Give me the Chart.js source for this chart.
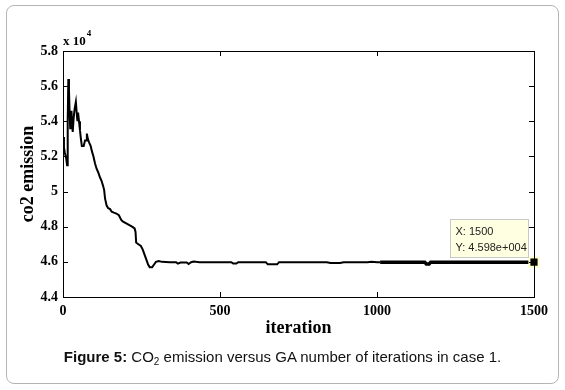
<!DOCTYPE html>
<html>
<head>
<meta charset="utf-8">
<script src="https://cdn.jsdelivr.net/npm/chart.js@4/dist/chart.umd.min.js"></script>
<style>
  html, body { margin: 0; padding: 0; background: #fff; }
  #frame { position: absolute; left: 6px; top: 5px; width: 551px; height: 377px;
           border: 1px solid #b4b4b4; border-radius: 8px; }
  #wrap { position: absolute; left: 0; top: 0; width: 565px; height: 390px; }
  #caption { position: absolute; left: 0; width: 565px; top: 348px; text-align: center;
             font-family: "Liberation Sans", Arial, sans-serif; font-size: 15px; color: #111; }
  #caption sub { font-size: 10px; vertical-align: -3px; }
</style>
</head>
<body>
<div id="frame"></div>
<div id="wrap"><canvas id="chart" width="565" height="390"></canvas></div>
<div id="caption"><b>Figure 5:</b> CO<sub>2</sub> emission versus GA number of iterations in case 1.</div>
<script>
// co2 emission (x 10^4) per GA iteration
const iterations = [0, 3, 6, 10, 13, 15, 17, 19, 21, 23, 25, 27, 29, 31, 34, 37, 41, 44, 46, 48,
  51, 54, 57, 60, 66, 70, 74, 76, 79, 83, 88, 92, 97, 102, 107, 112, 118, 123, 128, 131,
  134, 139, 144, 150, 155, 162, 170, 178, 185, 190, 200, 210, 220, 228, 231, 233, 240, 248, 254, 260,
  266, 271, 276, 284, 290, 296, 305, 315, 340, 360, 366, 374, 394, 400, 408, 416, 424, 434, 446, 460,
  536, 542, 552, 558, 646, 652, 682, 688, 700, 840, 852, 882, 894, 970, 982, 1000, 1010,
  1152, 1157, 1166, 1171, 1500];
const co2Emission = [5.31, 5.25, 5.22, 5.19, 5.15, 5.40, 5.64, 5.58, 5.45, 5.36, 5.40, 5.46, 5.38, 5.34, 5.42, 5.47, 5.51, 5.44, 5.40, 5.45,
  5.40, 5.35, 5.30, 5.26, 5.26, 5.29, 5.29, 5.33, 5.30, 5.28, 5.26, 5.23, 5.20, 5.16, 5.13, 5.11, 5.08, 5.06, 5.03, 5.01,
  4.96, 4.92, 4.905, 4.90, 4.885, 4.88, 4.875, 4.865, 4.84, 4.83, 4.82, 4.81, 4.80, 4.79, 4.77, 4.71, 4.70, 4.69, 4.67, 4.64,
  4.61, 4.585, 4.57, 4.57, 4.585, 4.60, 4.605, 4.60, 4.598, 4.598, 4.590, 4.596, 4.596, 4.588, 4.598, 4.602, 4.60, 4.598, 4.598, 4.598,
  4.598, 4.590, 4.590, 4.598, 4.598, 4.586, 4.586, 4.598, 4.598, 4.598, 4.593, 4.593, 4.598, 4.598, 4.601, 4.598, 4.598,
  4.598, 4.588, 4.588, 4.598, 4.598];
const cursorIter = 1500;
const cursorValue = 4.598;
const yTicks = [4.4, 5.8, 0.2];   // min, max, step
const xTicks = [0, 1500, 500];

const points = iterations.map((it, i) => ({ x: it, y: co2Emission[i] }));

// MATLAB style: box around the axes, ticks pointing inward, exponent label, data cursor
const matlabAxes = {
  id: 'matlabAxes',
  afterDraw(chart) {
    const { ctx, chartArea: a, scales } = chart;
    ctx.save();
    ctx.strokeStyle = '#000';
    ctx.lineWidth = 1;
    ctx.strokeRect(a.left + 0.5, a.top + 0.5, a.right - a.left, a.bottom - a.top);
    ctx.beginPath();
    scales.y.ticks.forEach(t => {
      const y = Math.round(scales.y.getPixelForValue(t.value)) + 0.5;
      ctx.moveTo(a.left, y); ctx.lineTo(a.left + 5, y);
      ctx.moveTo(a.right, y); ctx.lineTo(a.right - 5, y);
    });
    scales.x.ticks.forEach(t => {
      const x = Math.round(scales.x.getPixelForValue(t.value)) + 0.5;
      ctx.moveTo(x, a.bottom); ctx.lineTo(x, a.bottom - 5);
      ctx.moveTo(x, a.top); ctx.lineTo(x, a.top + 5);
    });
    ctx.stroke();

    ctx.fillStyle = '#000';
    ctx.textBaseline = 'alphabetic';
    ctx.font = 'bold 13px "Liberation Serif", serif';
    ctx.fillText('x 10', a.left, a.top - 6);
    const w = ctx.measureText('x 10').width;
    ctx.font = 'bold 9px "Liberation Serif", serif';
    ctx.fillText('4', a.left + w + 1, a.top - 15);

    // data tip box
    const px = scales.x.getPixelForValue(cursorIter);
    const py = scales.y.getPixelForValue(cursorValue);
    const bx = Math.round(px - 84) + 0.5, by = Math.round(py - 43) + 0.5;
    ctx.fillStyle = '#ffffe1';
    ctx.strokeStyle = '#c8c8c8';
    ctx.fillRect(bx, by, 78, 38);
    ctx.strokeRect(bx, by, 78, 38);
    ctx.fillStyle = '#222';
    ctx.font = '11px "Liberation Sans", Arial, sans-serif';
    ctx.fillText('X: ' + cursorIter, bx + 5, by + 15);
    ctx.fillText('Y: ' + (cursorValue).toFixed(3) + 'e+004', bx + 5, by + 31);
    ctx.restore();
  }
};

const serif = '"Liberation Serif", "Times New Roman", serif';

new Chart(document.getElementById('chart'), {
  type: 'line',
  data: {
    datasets: [
      {
        data: points,
        order: 2,
        borderColor: '#000',
        borderWidth: 2,
        pointRadius: 0,
        tension: 0,
        segment: {
          borderWidth: c => (c.p0.parsed.x >= 1005 ? 3.5 : 2)
        }
      },
      {
        data: [{ x: cursorIter, y: cursorValue }],
        order: 1,
        showLine: false,
        clip: false,
        pointStyle: 'rect',
        pointRadius: 6.5,
        backgroundColor: '#000',
        borderColor: '#ffffcc',
        borderWidth: 2
      }
    ]
  },
  options: {
    responsive: false,
    animation: false,
    layout: { padding: { left: 0, right: 31, top: 51, bottom: 48 } },
    plugins: { legend: { display: false }, tooltip: { enabled: false } },
    scales: {
      x: {
        type: 'linear',
        min: xTicks[0], max: xTicks[1],
        ticks: { stepSize: xTicks[2], color: '#000', padding: 6, maxRotation: 0,
                 font: { family: serif, size: 14, weight: 'bold' },
                 callback: v => String(v) },
        grid: { display: false, drawTicks: false },
        border: { display: false },
        title: { display: true, text: 'iteration', color: '#000', padding: { top: 0, bottom: 3 },
                 font: { family: serif, size: 18, weight: 'bold' } },
        afterFit: s => { s.height = 45; }
      },
      y: {
        min: yTicks[0], max: yTicks[1],
        ticks: { stepSize: yTicks[2], color: '#000', padding: 5,
                 font: { family: serif, size: 14, weight: 'bold' },
                 callback: v => String(Number(v.toFixed(1))) },
        grid: { display: false, drawTicks: false },
        border: { display: false },
        title: { display: true, text: 'co2 emission', color: '#000', padding: { top: 18, bottom: 0 },
                 font: { family: serif, size: 18, weight: 'bold' } },
        afterFit: s => { s.width = 63; }
      }
    }
  },
  plugins: [matlabAxes]
});
</script>
</body>
</html>
